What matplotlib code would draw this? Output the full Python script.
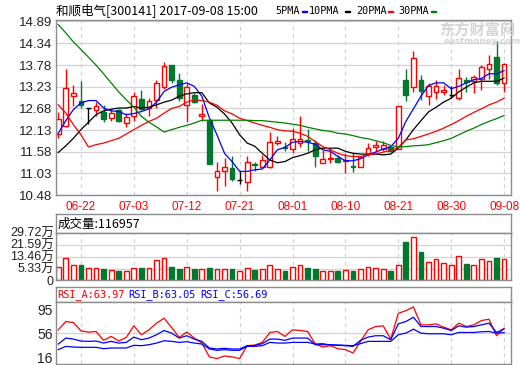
import matplotlib
matplotlib.use("Agg")
import matplotlib.pyplot as plt
from matplotlib.patches import Rectangle
import numpy as np

plt.rcParams['font.family'] = ['Noto Sans CJK SC', 'DejaVu Sans']

# 2017-06-19 .. 2017-09-08, 60 trading days
tick_idx = [3, 10, 17, 24, 31, 38, 45, 52, 59]
tick_labels = ['06-22', '07-03', '07-12', '07-21', '08-01', '08-10', '08-21', '08-30', '09-08']

open_ = [12.04, 12.23, 13.00, 12.88, 12.69, 12.64, 12.60, 12.43, 12.65, 12.30,
         12.50, 12.93, 12.69, 12.89, 13.22, 13.79, 13.39, 12.77, 13.03, 12.49,
         12.38, 10.95, 11.08, 11.16, 10.85, 10.80, 11.26, 11.19, 11.20, 11.80,
         11.70, 11.65, 11.81, 11.87, 11.81, 11.29, 11.40, 11.43, 11.34, 11.22,
         11.19, 11.52, 11.69, 11.65, 11.69, 11.65, 13.41, 13.22, 13.41, 12.99,
         13.10, 13.10, 13.03, 12.94, 13.39, 13.37, 13.43, 13.68, 13.98, 13.33]
close = [12.41, 13.21, 13.07, 12.77, 12.69, 12.75, 12.41, 12.56, 12.35, 12.46,
         12.99, 12.66, 12.86, 13.33, 13.75, 13.41, 12.94, 13.22, 12.84, 12.55,
         11.28, 11.10, 11.20, 10.89, 10.85, 11.31, 11.23, 11.37, 11.82, 11.86,
         11.68, 11.90, 11.90, 11.84, 11.48, 11.39, 11.43, 11.33, 11.36, 11.19,
         11.44, 11.67, 11.76, 11.76, 11.59, 12.74, 13.01, 13.96, 13.13, 13.26,
         13.26, 13.16, 13.03, 13.45, 13.34, 13.47, 13.73, 13.81, 13.33, 13.82]
high = [12.59, 13.67, 13.28, 13.37, 12.69, 12.84, 12.77, 12.66, 12.67, 12.56,
        13.10, 13.16, 12.94, 13.40, 13.86, 13.79, 13.58, 13.33, 13.06, 12.79,
        12.38, 11.33, 11.42, 11.46, 11.08, 11.46, 11.33, 11.50, 12.09, 11.97,
        11.82, 12.18, 12.50, 12.15, 11.88, 11.63, 11.67, 11.50, 11.54, 11.54,
        11.46, 11.81, 11.84, 11.86, 11.71, 12.74, 13.67, 14.15, 13.54, 13.33,
        13.41, 13.28, 13.26, 13.69, 13.47, 13.54, 13.79, 14.03, 14.39, 13.84]
low = [11.92, 12.20, 12.73, 12.69, 12.28, 12.48, 12.33, 12.35, 12.33, 12.22,
       12.35, 12.65, 12.48, 12.69, 13.18, 13.33, 12.88, 12.33, 12.81, 12.37,
       11.28, 10.59, 10.72, 10.84, 10.76, 10.59, 11.08, 11.16, 11.16, 11.74,
       11.59, 11.54, 11.71, 11.60, 11.20, 11.29, 11.29, 11.29, 11.03, 11.06,
       11.19, 11.48, 11.57, 11.60, 11.57, 11.65, 12.86, 13.11, 12.90, 12.76,
       12.93, 13.03, 12.94, 12.90, 13.11, 13.07, 13.16, 13.43, 13.28, 13.10]

ma5 = [12.05, 12.37, 12.65, 12.82, 12.88, 12.88, 12.69, 12.62, 12.60, 12.52,
       12.55, 12.60, 12.67, 12.84, 13.11, 13.22, 13.28, 13.33, 13.24, 12.99,
       12.44, 12.01, 11.54, 11.33, 11.08, 11.08, 11.12, 11.14, 11.37, 11.63,
       11.69, 11.82, 11.84, 11.82, 11.77, 11.63, 11.59, 11.46, 11.35, 11.35,
       11.40, 11.50, 11.57, 11.65, 11.71, 11.92, 12.35, 12.67, 12.99, 13.26,
       13.33, 13.33, 13.18, 13.24, 13.33, 13.41, 13.44, 13.56, 13.56, 13.64]
ma10 = [11.56, 11.73, 11.92, 12.14, 12.33, 12.52, 12.62, 12.66, 12.69, 12.69,
        12.73, 12.69, 12.71, 12.77, 12.84, 12.89, 12.99, 13.05, 13.08, 13.08,
        12.82, 12.71, 12.54, 12.31, 12.01, 11.80, 11.72, 11.54, 11.37, 11.30,
        11.33, 11.43, 11.48, 11.54, 11.63, 11.67, 11.67, 11.67, 11.59, 11.54,
        11.52, 11.52, 11.52, 11.50, 11.52, 11.67, 11.88, 12.14, 12.37, 12.59,
        12.71, 12.84, 12.94, 13.10, 13.22, 13.33, 13.37, 13.37, 13.37, 13.45]
ma20 = [12.77, 12.56, 12.27, 12.01, 11.70, 11.76, 11.80, 11.86, 11.92, 12.03,
        12.14, 12.25, 12.35, 12.43, 12.56, 12.68, 12.73, 12.84, 12.90, 12.88,
        12.84, 12.76, 12.62, 12.54, 12.43, 12.37, 12.31, 12.25, 12.20, 12.14,
        12.11, 12.10, 12.05, 11.97, 11.84, 11.71, 11.63, 11.54, 11.48, 11.46,
        11.46, 11.50, 11.52, 11.57, 11.61, 11.69, 11.88, 11.91, 11.97, 12.03,
        12.10, 12.18, 12.27, 12.37, 12.48, 12.58, 12.67, 12.77, 12.84, 12.94]
ma30 = [14.81, 14.60, 14.37, 14.18, 13.98, 13.78, 13.56, 13.33, 13.10, 12.90,
        12.71, 12.48, 12.33, 12.21, 12.08, 12.14, 12.20, 12.25, 12.31, 12.38,
        12.38, 12.38, 12.38, 12.38, 12.38, 12.38, 12.37, 12.37, 12.35, 12.33,
        12.31, 12.28, 12.25, 12.20, 12.16, 12.12, 12.10, 12.05, 12.03, 11.99,
        11.94, 11.91, 11.86, 11.81, 11.74, 11.70, 11.71, 11.73, 11.74, 11.76,
        11.81, 11.86, 11.92, 12.01, 12.10, 12.18, 12.27, 12.35, 12.42, 12.50]

# volume, in 万
vol = [6.67, 12.68, 8.0, 8.2, 6.0, 6.0, 5.55, 4.66, 4.0, 3.55,
       6.0, 6.2, 6.0, 11.3, 12.68, 6.9, 5.55, 6.67, 4.9, 4.9,
       6.2, 5.33, 5.33, 5.55, 4.2, 6.0, 4.4, 4.9, 8.2, 4.9,
       4.2, 6.67, 8.2, 6.2, 5.55, 3.55, 4.2, 3.77, 4.66, 4.2,
       4.9, 6.67, 6.2, 5.33, 4.2, 8.2, 23.6, 26.7, 16.9, 10.0,
       12.0, 9.3, 8.0, 14.0, 8.9, 8.0, 12.0, 10.7, 12.9, 11.6957]
vol_last = 116957
vol_ticks = [5.33, 13.46, 21.59, 29.72]

rsi_a = [61.4, 75.0, 73.3, 59.8, 57.6, 58.7, 44.1, 50.6, 43.0, 49.0,
         67.9, 53.3, 61.4, 72.3, 80.4, 65.2, 49.0, 57.6, 47.9, 39.7,
         17.0, 14.3, 18.6, 17.0, 14.3, 35.4, 36.5, 40.8, 57.1, 58.7,
         50.6, 61.4, 60.3, 58.7, 38.3, 33.2, 35.4, 30.5, 28.9, 23.5,
         42.5, 61.4, 66.8, 67.9, 46.2, 88.5, 92.8, 99.0, 69.5, 69.5,
         71.2, 65.8, 61.4, 72.3, 66.8, 69.5, 76.6, 78.8, 51.7, 63.97]
rsi_b = [38.1, 47.9, 46.2, 43.0, 42.5, 43.0, 39.7, 42.5, 39.7, 40.8,
         49.5, 45.2, 47.9, 53.3, 60.3, 56.0, 47.9, 51.7, 46.2, 42.5,
         31.6, 30.0, 31.1, 30.0, 30.0, 35.4, 35.4, 38.7, 46.2, 46.2,
         44.1, 47.9, 47.9, 47.9, 37.0, 37.0, 37.0, 36.0, 35.4, 34.3,
         44.1, 49.5, 51.7, 51.7, 45.2, 71.2, 75.0, 82.0, 66.8, 66.8,
         66.8, 64.1, 60.3, 67.9, 65.8, 66.8, 69.5, 72.3, 57.1, 63.05]
rsi_c = [28.9, 34.3, 33.2, 32.7, 32.7, 32.7, 30.5, 31.6, 31.6, 31.6,
         36.0, 35.4, 37.0, 39.7, 43.5, 42.5, 40.8, 41.9, 39.7, 38.1,
         30.0, 27.8, 28.9, 27.8, 27.8, 34.3, 34.3, 35.4, 40.8, 39.7,
         39.7, 40.8, 40.8, 40.8, 38.1, 38.7, 36.5, 36.5, 36.0, 35.4,
         38.7, 42.5, 42.5, 42.5, 42.5, 53.3, 56.0, 62.5, 56.0, 54.9,
         54.9, 54.9, 53.3, 57.1, 57.1, 57.1, 58.2, 58.7, 56.0, 56.69]
price_ticks = [14.89, 14.34, 13.78, 13.23, 12.68, 12.13, 11.58, 11.03, 10.48]
rsi_ticks = [95, 56, 16]

RED = '#ff0000'
GREEN = '#00792f'
BORDER = '#8c8c8c'
GRID = '#d2d2d2'
LABEL = '#222222'

W, H = 520, 365
fig = plt.figure(figsize=(W / 100, H / 100), dpi=100)


def box(l, t, r, b):
    return [l / W, 1 - b / H, (r - l) / W, (b - t) / H]


ax = fig.add_axes(box(56, 19.5, 510.5, 195))
axvt = fig.add_axes(box(56, 214, 510.5, 232.7))
axv = fig.add_axes(box(56, 232.7, 510.5, 280.3))
axrt = fig.add_axes(box(56, 287.3, 510.5, 301.7))
axr = fig.add_axes(box(56, 301.7, 510.5, 363.5))

x = np.arange(len(close))
xlim = (-0.3, 59.85)
bw = 0.64

for a in (ax, axvt, axv, axrt, axr):
    a.set_xlim(*xlim)
    for s in a.spines.values():
        s.set_color(BORDER)
        s.set_linewidth(1.0)
    a.tick_params(length=0)
for a in (axvt, axrt):
    a.set_xticks([])
    a.set_yticks([])

# ---- candles
for i in x:
    o, c, h, l = open_[i], close[i], high[i], low[i]
    top, bot = max(o, c), min(o, c)
    if c > o:
        col, face = RED, 'white'
    elif c < o:
        col, face = GREEN, GREEN
    else:
        col, face = 'black', 'black'
    if c == o:
        ax.vlines(i, l, h, color=col, lw=1, zorder=2)
        ax.hlines(o, i - bw / 2, i + bw / 2, color=col, lw=1, zorder=2)
        continue
    ax.vlines(i, top, h, color=col, lw=1, zorder=2)
    ax.vlines(i, l, bot, color=col, lw=1, zorder=2)
    ax.add_patch(Rectangle((i - bw / 2, bot), bw, top - bot, facecolor=face,
                           edgecolor=col, lw=1, zorder=2))

ax.plot(x, ma5, color='#0000ff', lw=0.9, zorder=3)
ax.plot(x, ma10, color='black', lw=0.9, zorder=3)
ax.plot(x, ma20, color=RED, lw=0.9, zorder=3)
ax.plot(x, ma30, color='#008000', lw=0.9, zorder=3)

ax.set_ylim(10.48, 14.94)
ax.set_yticks(price_ticks)
ax.set_yticklabels([f'{v:.2f}' for v in price_ticks], family='Liberation Sans',
                   fontsize=9.5, color=LABEL)
ax.set_xticks(tick_idx)
ax.set_xticklabels(tick_labels, family='Liberation Sans', fontsize=8.5, color=RED)
ax.tick_params(axis='y', pad=2.5)
ax.tick_params(axis='x', pad=4.5)
ax.yaxis.grid(True, color=GRID, lw=0.9, ls='-', zorder=0)
ax.xaxis.grid(True, color=GRID, lw=0.9, ls=(0, (3, 3)), zorder=0)
ax.set_axisbelow(True)

# watermark
fig.text(439 / W, 1 - 30 / H, '东方财富网', fontsize=11, fontweight='bold',
         color='#d4d4d4', va='center', ha='left')
fig.text(444 / W, 1 - 41.5 / H, 'eastmoney.com', fontsize=6.3, fontweight='bold',
         color='#d4d4d4', va='center', ha='left', family='DejaVu Sans')

# header and legend
fig.text(56 / W, 1 - 10 / H, '和顺电气[300141] 2017-09-08 15:00', fontsize=9,
         va='center', ha='left', color='black')
legend = [('5PMA', 275.7, 302.3, '#0000ff'), ('10PMA', 308.3, 345.0, 'black'),
          ('20PMA', 356.0, 388.3, RED), ('30PMA', 398.3, 430.7, '#008000')]
for name, tx, dx, col in legend:
    fig.text(tx / W, 1 - 10.5 / H, name, fontsize=7.3, family='DejaVu Sans Mono',
             va='center', ha='left', color='black')
    fig.add_artist(Rectangle((dx / W, 1 - 12.3 / H), 4.8 / W, 1.8 / H,
                             transform=fig.transFigure, color=col))

# ---- volume
vbot = -2.4
vcol = [RED if c >= o else GREEN for o, c in zip(open_, close)]
vface = ['white' if c >= o else GREEN for o, c in zip(open_, close)]
axv.bar(x, np.array(vol) - vbot, bottom=vbot, width=bw, color=vface,
        edgecolor=vcol, lw=1, zorder=2)
axv.set_ylim(vbot, 29.72)
axv.set_yticks([vbot] + vol_ticks)
axv.set_yticklabels(['0'] + [f'{v:.2f}万' for v in vol_ticks],
                    family=['Liberation Sans', 'Noto Sans CJK SC'], fontsize=9,
                    color=LABEL)
axv.tick_params(axis='y', pad=1.5)
axv.set_xticks(tick_idx)
axv.set_xticklabels([])
axv.yaxis.grid(True, color=GRID, lw=0.9, ls='-')
axv.xaxis.grid(True, color=GRID, lw=0.9, ls=(0, (3, 3)))
axv.set_axisbelow(True)
axvt.text(0.003, 0.45, f'成交量:{vol_last}', transform=axvt.transAxes,
          fontsize=9, va='center', ha='left', color='black')

# ---- RSI
axr.plot(x, rsi_a, color=RED, lw=0.9, zorder=3)
axr.plot(x, rsi_b, color='#0000ff', lw=0.9, zorder=3)
axr.plot(x, rsi_c, color='#0000ff', lw=0.9, zorder=3)
axr.set_ylim(6.2, 107.5)
axr.set_yticks(rsi_ticks)
axr.set_yticklabels([str(v) for v in rsi_ticks], family='Liberation Sans',
                    fontsize=10, color=LABEL)
axr.tick_params(axis='y', pad=2.5)
axr.axhline(56, color=GRID, lw=0.9, zorder=0)
axr.set_xticks(tick_idx)
axr.set_xticklabels([])
axr.xaxis.grid(True, color=GRID, lw=0.9, ls=(0, (3, 3)))
axr.set_axisbelow(True)
rsi_title = [('RSI_A', rsi_a[-1], RED, 57.3), ('RSI_B', rsi_b[-1], '#0000ff', 128.3),
             ('RSI_C', rsi_c[-1], '#0000ff', 200.0)]
for name, val, col, tx in rsi_title:
    fig.text(tx / W, 1 - 294.5 / H, f'{name}:{val:.2f}', fontsize=7.4,
             family='DejaVu Sans Mono', va='center', ha='left', color=col)

fig.savefig('out.png', dpi=100)
